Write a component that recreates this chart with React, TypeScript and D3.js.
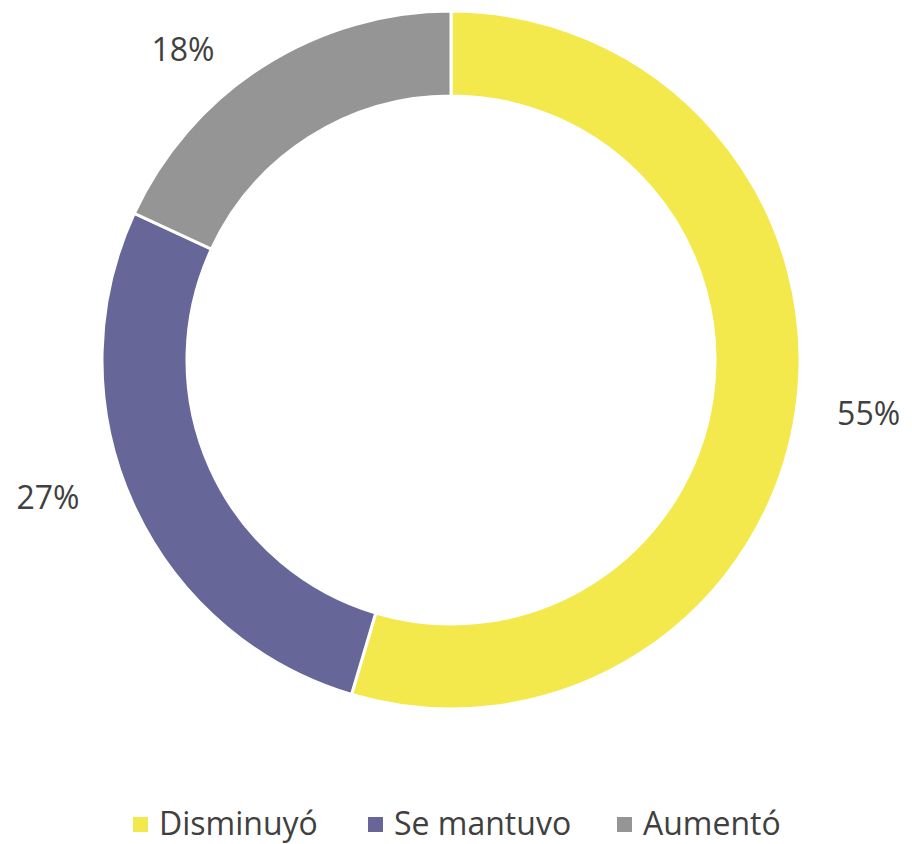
import React from "react";
import * as d3 from "d3";

const categories = ["Disminuyó", "Se mantuvo", "Aumentó"];
const values = [54.6, 27.3, 18.1];
const colors = ["#F4E94C", "#676699", "#959595"];

const W = 912;
const H = 844;
const CX = 451;
const CY = 360;
const R_OUT = 349;
const R_IN = 264;
const LABEL_R = 418;
const labelNudge = [
  [4, -7],
  [-22, -35],
  [-43, 42],
];
const legendX = [133, 368, 617];
const FONT = "'Open Sans', 'Noto Sans', sans-serif";
const TEXT = "#404040";

export default function App() {
  const total = d3.sum(values);
  const pie = d3.pie<number>().sort(null).value((d) => d);
  const arcs = pie(values);
  const arc = d3.arc<d3.PieArcDatum<number>>().innerRadius(R_IN).outerRadius(R_OUT);
  return (
    <svg
      width={W}
      height={H}
      style={{ position: "absolute", left: 0, top: 0, background: "#fff" }}
    >
      <g transform={`translate(${CX},${CY})`}>
        {arcs.map((a, i) => (
          <path key={i} d={arc(a) || ""} fill={colors[i]} stroke="#fff" strokeWidth={3} />
        ))}
        {arcs.map((a, i) => {
          const mid = (a.startAngle + a.endAngle) / 2;
          const x = LABEL_R * Math.sin(mid) + labelNudge[i][0];
          const y = -LABEL_R * Math.cos(mid) + labelNudge[i][1];
          return (
            <text
              key={i}
              x={x}
              y={y + 11.5}
              textAnchor="middle"
              fontFamily={FONT}
              fontSize={32}
              fill={TEXT}
            >
              {`${Math.round((values[i] / total) * 100)}%`}
            </text>
          );
        })}
      </g>
      <g>
        {categories.map((c, i) => (
          <g key={c} transform={`translate(${legendX[i]},0)`}>
            <rect x={0} y={817} width={15} height={15} fill={colors[i]} />
            <text x={26} y={835} fontFamily={FONT} fontSize={32} fill={TEXT}>
              {c}
            </text>
          </g>
        ))}
      </g>
    </svg>
  );
}
